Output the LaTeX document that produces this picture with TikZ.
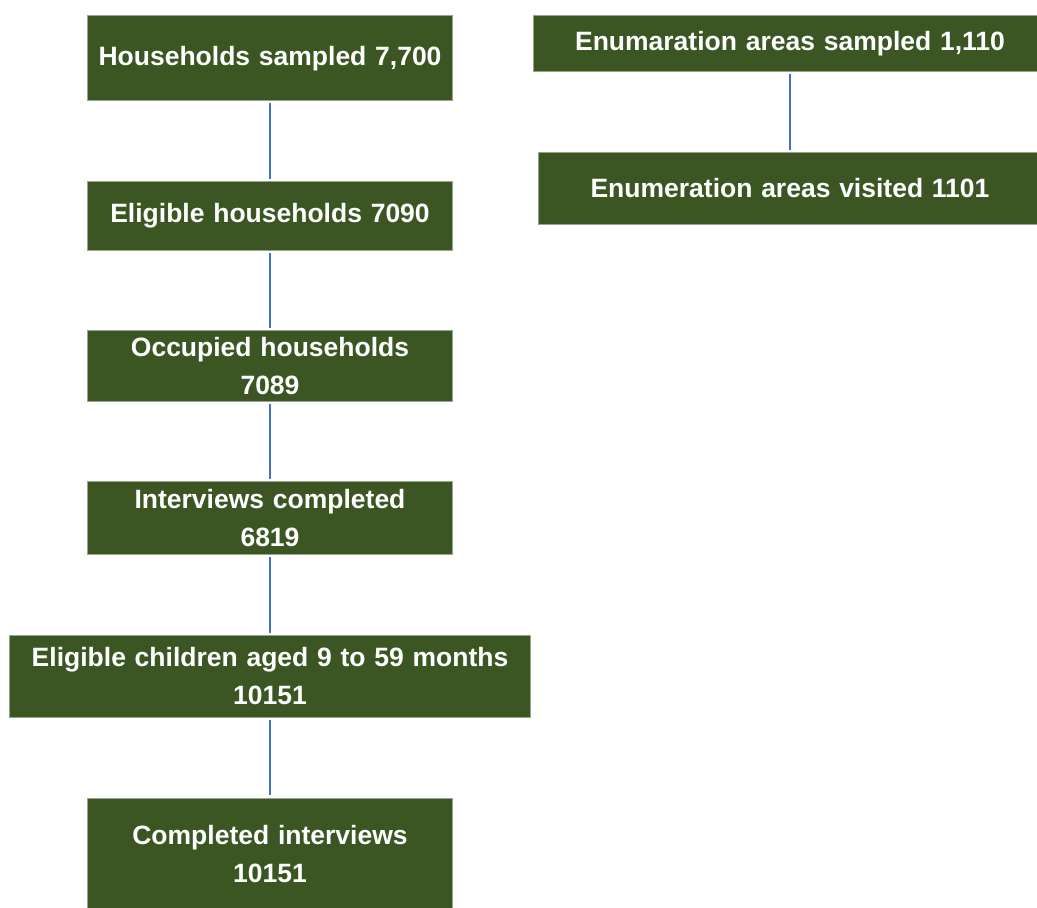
\documentclass[tikz,border=0pt]{standalone}
\usepackage{fontspec}
\setmainfont{Liberation Sans}
\definecolor{boxgreen}{RGB}{59,86,35}
\definecolor{boxedge}{RGB}{150,165,140}
\definecolor{linkblue}{RGB}{68,114,196}
\newcommand\stagefont{\bfseries\fontsize{26.5}{38}\selectfont\spaceskip=0.33em\relax}
\begin{document}
\begin{tikzpicture}[x=1pt,y=-1pt,
  stage/.style={rectangle, fill=boxgreen, draw=boxedge, line width=0.8pt,
    text=white, align=center, inner sep=0pt, outer sep=0pt,
    font=\stagefont},
  link/.style={draw=linkblue, line width=2.2pt, shorten <=2.5pt, shorten >=2.5pt}]
\clip (0,0) rectangle (1037,908);
\fill[white] (0,0) rectangle (1037,908);
\node[stage, minimum width=365pt, minimum height=85pt] (b1) at (270,58.2) {Households sampled 7,700};
\node[stage, minimum width=365pt, minimum height=69pt] (b2) at (270,215.5) {Eligible households 7090};
\node[stage, minimum width=365pt, minimum height=71pt] (b3) at (270,365.8) {Occupied households\\7089};
\node[stage, minimum width=365pt, minimum height=72.5pt] (b4) at (270,518) {Interviews completed\\6819};
\node[stage, minimum width=521.7pt, minimum height=82pt] (b5) at (270,676.3) {Eligible children aged 9 to 59 months\\10151};
\node[stage, minimum width=365pt, minimum height=112pt] (b6) at (270,853.9) {Completed interviews\\10151};
\node[stage, minimum width=514pt, minimum height=56pt] (b7) at (790,43.7) {Enumaration areas sampled 1,110};
\node[stage, minimum width=503.7pt, minimum height=72pt] (b8) at (790,188.3) {Enumeration areas visited 1101};
\draw[link] (b1.south) -- (b2.north);
\draw[link] (b2.south) -- (b3.north);
\draw[link] (b3.south) -- (b4.north);
\draw[link] (b4.south) -- (b5.north);
\draw[link] (b5.south) -- (b6.north);
\draw[link] (b7.south) -- (b8.north);
\end{tikzpicture}
\end{document}
